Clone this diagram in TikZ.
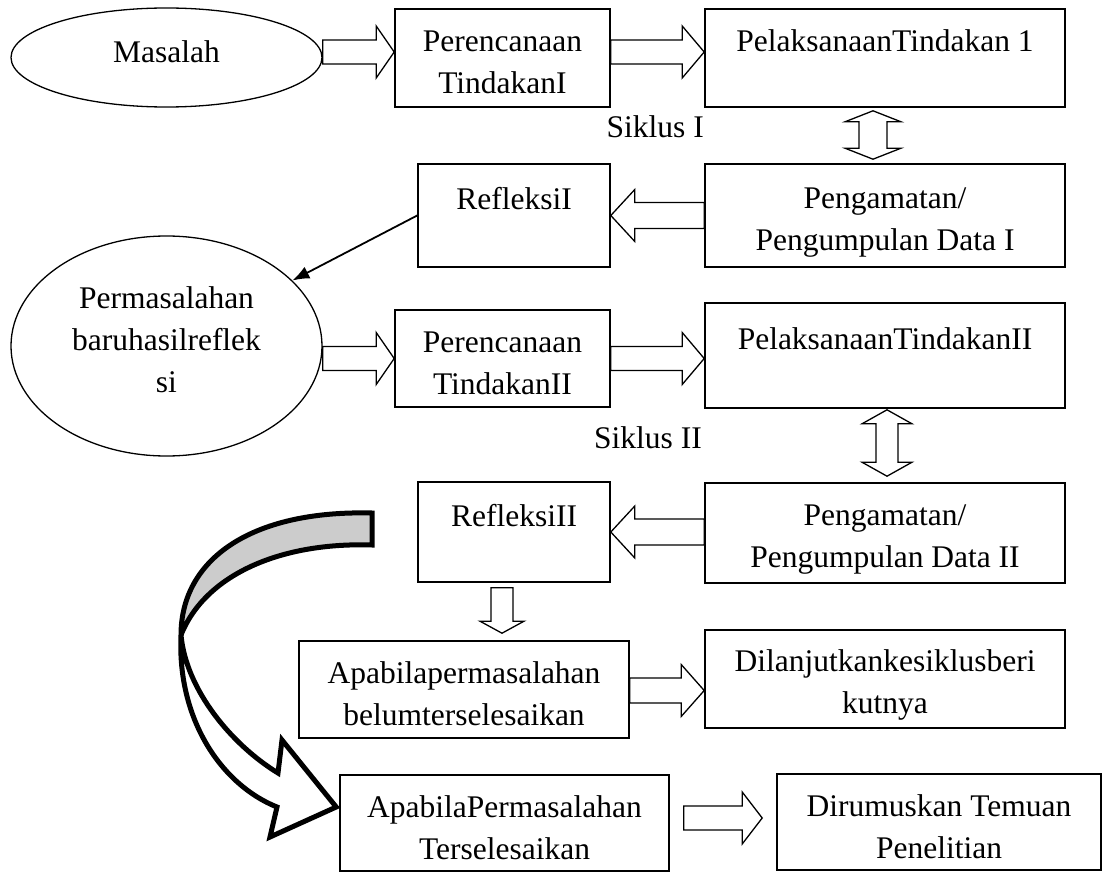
\documentclass[tikz,border=0pt]{standalone}
\usepackage{fontspec}
\setmainfont{Liberation Serif}
\usetikzlibrary{calc,shapes.geometric,arrows.meta}
\newcommand\st{\rule[-4pt]{0pt}{38pt}}
\newcommand\blockarrow[5]{%
  \coordinate (bah) at ($(#2)!#5!(#1)$);
  \draw[barrow] ($(#1)!#3!90:(#2)$) -- ($(bah)!#3!90:(#2)$) -- ($(bah)!#4!90:(#2)$) -- (#2)
    -- ($(bah)!#4!-90:(#2)$) -- ($(bah)!#3!-90:(#2)$) -- ($(#1)!#3!-90:(#2)$) -- cycle;}
\newcommand\dblarrow[5]{%
  \coordinate (daa) at ($(#1)!#5!(#2)$);
  \coordinate (dab) at ($(#2)!#5!(#1)$);
  \draw[barrow] (#1) -- ($(daa)!#4!90:(#2)$) -- ($(daa)!#3!90:(#2)$) -- ($(dab)!#3!90:(#2)$)
    -- ($(dab)!#4!90:(#2)$) -- (#2) -- ($(dab)!#4!-90:(#2)$) -- ($(dab)!#3!-90:(#2)$)
    -- ($(daa)!#3!-90:(#2)$) -- ($(daa)!#4!-90:(#2)$) -- cycle;}
\begin{document}
\begin{tikzpicture}[x=1pt,y=-1pt,
  font=\fontsize{31.5pt}{42pt}\selectfont,
  box/.style={draw, line width=1.6pt, inner sep=0pt, align=center},
  ell/.style={ellipse, draw, line width=1.3pt, inner sep=0pt, align=center},
  barrow/.style={draw, line width=1.3pt, fill=white, line join=miter},
  lbl/.style={inner sep=0pt},
  curvy/.style={draw, line width=5pt, line join=miter, miter limit=4}]
\useasboundingbox (0,0) rectangle (1104,872);
\fill[white] (0,0) rectangle (1104,872);

% nodes
\node[ell, minimum width=311pt, minimum height=99pt] (m) at (166.5,57.5) {Masalah\rule[-20pt]{0pt}{50pt}};
\node[box, minimum width=215pt, minimum height=98pt] (p1) at (502.5,58) {Perencanaan\st\\TindakanI\st};
\node[box, minimum width=360pt, minimum height=98pt] (l1) at (885,58) {PelaksanaanTindakan 1\st\\\st};
\node[box, minimum width=192pt, minimum height=103pt] (r1) at (514,215.5) {RefleksiI\st\\\st};
\node[box, minimum width=360pt, minimum height=103pt] (o1) at (885,215.5) {Pengamatan/\st\\Pengumpulan Data I\st};
\node[ell, minimum width=311pt, minimum height=220pt] (pb) at (166.5,346) {Permasalahan\st\\baruhasilreflek\st\\si\rule[-26pt]{0pt}{60pt}};
\node[box, minimum width=215pt, minimum height=97pt] (p2) at (502.5,358.5) {Perencanaan\st\\TindakanII\st};
\node[box, minimum width=360pt, minimum height=105pt] (l2) at (885,355.5) {PelaksanaanTindakanII\st\\\st};
\node[box, minimum width=192pt, minimum height=100pt] (r2) at (514,532) {RefleksiII\st\\\st};
\node[box, minimum width=360pt, minimum height=100pt] (o2) at (885,533) {Pengamatan/\st\\Pengumpulan Data II\st};
\node[box, minimum width=330pt, minimum height=97pt] (a1) at (464,689.5) {Apabilapermasalahan\st\\belumterselesaikan\st};
\node[box, minimum width=360pt, minimum height=98pt] (d1) at (885,679) {Dilanjutkankesiklusberi\st\\kutnya\st};
\node[box, minimum width=329pt, minimum height=96pt] (a2) at (504.5,823) {ApabilaPermasalahan\st\\Terselesaikan\st};
\node[box, minimum width=324pt, minimum height=96pt] (f1) at (939,822) {Dirumuskan Temuan\st\\Penelitian\st};

\node[lbl, anchor=base east] (s1) at (704,138) {Siklus I};
\node[lbl, anchor=base east] (s2) at (702,448) {Siklus II};

% block arrows
\coordinate (mp-b) at ([yshift=6pt]p1.west);
\coordinate (mp-a) at (mp-b -| m.east);
\blockarrow{mp-a}{mp-b}{12pt}{26pt}{18pt}

\coordinate (pl-a) at ([yshift=6pt]p1.east);
\coordinate (pl-b) at (pl-a -| l1.west);
\blockarrow{pl-a}{pl-b}{12pt}{26pt}{22pt}

\coordinate (lo-a) at ([xshift=-12pt,yshift=-3pt]l1.south);
\path (lo-a |- o1.north) ++(0,-4) coordinate (lo-b);
\dblarrow{lo-a}{lo-b}{14pt}{28pt}{11pt}

\coordinate (or-b) at (r1.east);
\coordinate (or-a) at (or-b -| o1.west);
\blockarrow{or-a}{or-b}{13pt}{26pt}{24pt}

\draw[line width=1.8pt, -{Latex[length=17pt,width=13pt]}] (r1.west) -- (pb);

\coordinate (pp-b) at (p2.west);
\coordinate (pp-a) at (pp-b -| pb.east);
\blockarrow{pp-a}{pp-b}{12pt}{26pt}{18pt}

\coordinate (pl2-a) at (p2.east);
\coordinate (pl2-b) at (pl2-a -| l2.west);
\blockarrow{pl2-a}{pl2-b}{12pt}{26pt}{22pt}

\coordinate (lo2-a) at ([xshift=2pt,yshift=-1pt]l2.south);
\path (lo2-a |- o2.north) ++(0,-6) coordinate (lo2-b);
\dblarrow{lo2-a}{lo2-b}{11pt}{25pt}{14pt}

\coordinate (or2-b) at (r2.east);
\coordinate (or2-a) at (or2-b -| o2.west);
\blockarrow{or2-a}{or2-b}{13pt}{26pt}{24pt}

\coordinate (ra-a) at ([xshift=-12pt,yshift=-5pt]r2.south);
\path (ra-a |- a1.north) ++(0,-7) coordinate (ra-b);
\blockarrow{ra-a}{ra-b}{11pt}{22pt}{12pt}

\coordinate (ad-a) at ([yshift=-1pt]a1.east);
\coordinate (ad-b) at (ad-a -| d1.west);
\blockarrow{ad-a}{ad-b}{12.5pt}{26pt}{23pt}

\coordinate (af-a) at ([xshift=14pt,yshift=5pt]a2.east);
\path (af-a -| f1.west) ++(-14,0) coordinate (af-b);
\blockarrow{af-a}{af-b}{12pt}{26pt}{20pt}

% curved arrow
\coordinate (ct1) at (372,513);
\coordinate (ct2) at (372,545);
\coordinate (cp) at (181,635);
\coordinate (cln) at (277,807);
\coordinate (clb) at (270,837);
\coordinate (ctip) at ([shift={(-3pt,16pt)}]a2.west);
\coordinate (cub) at (282,740);
\coordinate (cun) at (278,773);
\draw[curvy, fill=black!20] (ct1) .. controls (250,510) and (181,560) .. (cp)
  .. controls (205,575) and (280,542) .. (ct2) -- cycle;
\draw[curvy, fill=white] (cp) .. controls (177,720) and (222,785) .. (cln) -- (clb) -- (ctip)
  -- (cub) -- (cun) .. controls (232,745) and (186,690) .. (cp) -- cycle;
\end{tikzpicture}
\end{document}
